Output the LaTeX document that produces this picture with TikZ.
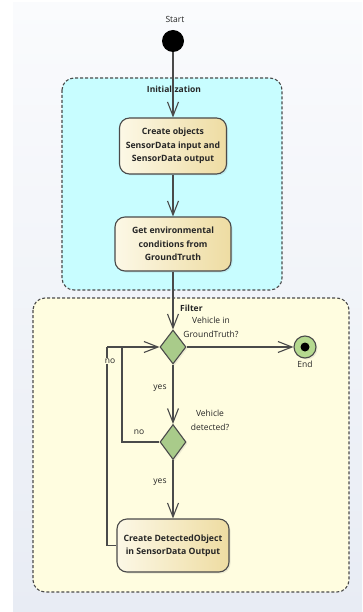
\documentclass[tikz,border=0pt]{standalone}
\usepackage{fontspec}
\setmainfont{Open Sans}
\usetikzlibrary{arrows.meta,shapes.geometric,shadows,calc}
\definecolor{lineC}{HTML}{4A4A4A}
\definecolor{txtC}{HTML}{262626}
\definecolor{panelTop}{HTML}{FAFBFD}
\definecolor{panelBot}{HTML}{E8ECF4}
\definecolor{initFill}{HTML}{C8FDFF}
\definecolor{filterFill}{HTML}{FFFDE0}
\definecolor{boxL}{HTML}{FCF8E6}
\definecolor{boxR}{HTML}{EEDCA2}
\definecolor{diaFill}{HTML}{A9CB8A}
\definecolor{endFill}{HTML}{B5D98F}
\begin{document}
\begin{tikzpicture}[x=1pt,y=-1pt,
  conn/.style={draw=lineC, line width=1.1pt, -{Straight Barb[length=14pt,width=11pt,line width=1.1pt]}},
  plainline/.style={draw=lineC, line width=1.1pt},
  region/.style={draw=lineC, line width=1.1pt, dash pattern=on 3pt off 2pt, rounded corners=12pt},
  action/.style={draw=lineC, line width=1.1pt, rounded corners=10pt, left color=boxL, right color=boxR,
    align=center, text=txtC, font=\fontsize{8.7}{13.4}\selectfont\bfseries, inner sep=0pt,
    drop shadow={opacity=0.15, shadow xshift=1.5pt, shadow yshift=-1.5pt}},
  decision/.style={diamond, draw=lineC, line width=1.1pt, fill=diaFill, inner sep=0pt,
    minimum width=26pt, minimum height=34pt,
    drop shadow={opacity=0.15, shadow xshift=1.5pt, shadow yshift=-1.5pt}},
  lbl/.style={text=txtC, font=\fontsize{8.5}{14}\selectfont, inner sep=1pt, align=center},
  blbl/.style={text=txtC, font=\fontsize{8.5}{13}\selectfont\bfseries, inner sep=1pt}
]
\useasboundingbox (0,0) rectangle (362,612);
\fill[white] (0,0) rectangle (362,612);
\shade[top color=panelTop, bottom color=panelBot] (13,3) rectangle (362,612);

% regions
\path[region, fill=initFill] (62,78) rectangle (282,290);
\node[blbl] (initlbl) at (174,89) {Initialization};
\path[region, fill=filterFill] (33,298) rectangle (349,592);
\node[blbl, anchor=west] (filterlbl) at (179,308) {Filter};

% start
\node[lbl] (startlbl) at (175,19) {Start};
\node[circle, fill=black, minimum size=22pt, inner sep=0pt] (start) at (173,41) {};

% actions
\node[action, minimum width=107pt, minimum height=56pt] (b1) at (173,146)
  {Create objects\\SensorData input and\\SensorData output};
\node[action, minimum width=116pt, minimum height=54pt] (b2) at (173,244)
  {Get environmental\\conditions from\\GroundTruth};
\node[action, minimum width=112pt, minimum height=53pt] (b3) at (173,545.5)
  {Create DetectedObject\\in SensorData Output};

% decisions
\node[decision] (d1) at (173,347) {};
\node[decision, minimum height=35pt] (d2) at (173,442) {};
\node[lbl] (d1lbl) at (211,327) {Vehicle in\\GroundTruth?};
\node[lbl] (d2lbl) at (210,420) {Vehicle\\detected?};

% end
\node[circle, draw=lineC, line width=1.1pt, fill=endFill, minimum size=22pt, inner sep=0pt,
  drop shadow={opacity=0.15, shadow xshift=1.5pt, shadow yshift=-1.5pt}] (endn) at (305,347) {};
\node[circle, fill=black, minimum size=9pt, inner sep=0pt] (enddot) at (endn.center) {};
\node[lbl] (endlbl) at (305,364) {End};

% loop coordinates
\coordinate (outerX) at (107,545.5);
\coordinate (outerTop) at (107,347);
\coordinate (innerX) at (122,442);
\coordinate (innerTop) at (122,347);

% connectors
\draw[conn] (start) -- (b1);
\draw[conn] (b1) -- (b2);
\draw[conn] (b2) -- (d1);
\draw[conn] (d1) -- (endn);
\draw[conn] (d1) -- (d2);
\draw[conn] (d2) -- (b3);
\draw[plainline] (d2.west) -- (innerX) -- (innerTop);
\draw[plainline] (b3.west) -- (outerX) -- (outerTop);
\draw[conn] (outerTop) -- (d1.west);

% branch labels
\node[lbl, fill=filterFill] (no1) at (110,361) {no};
\node[lbl] (no2) at (139,432) {no};
\node[lbl] (yes1) at (160,388) {yes};
\node[lbl] (yes2) at (160,482) {yes};
\end{tikzpicture}
\end{document}
